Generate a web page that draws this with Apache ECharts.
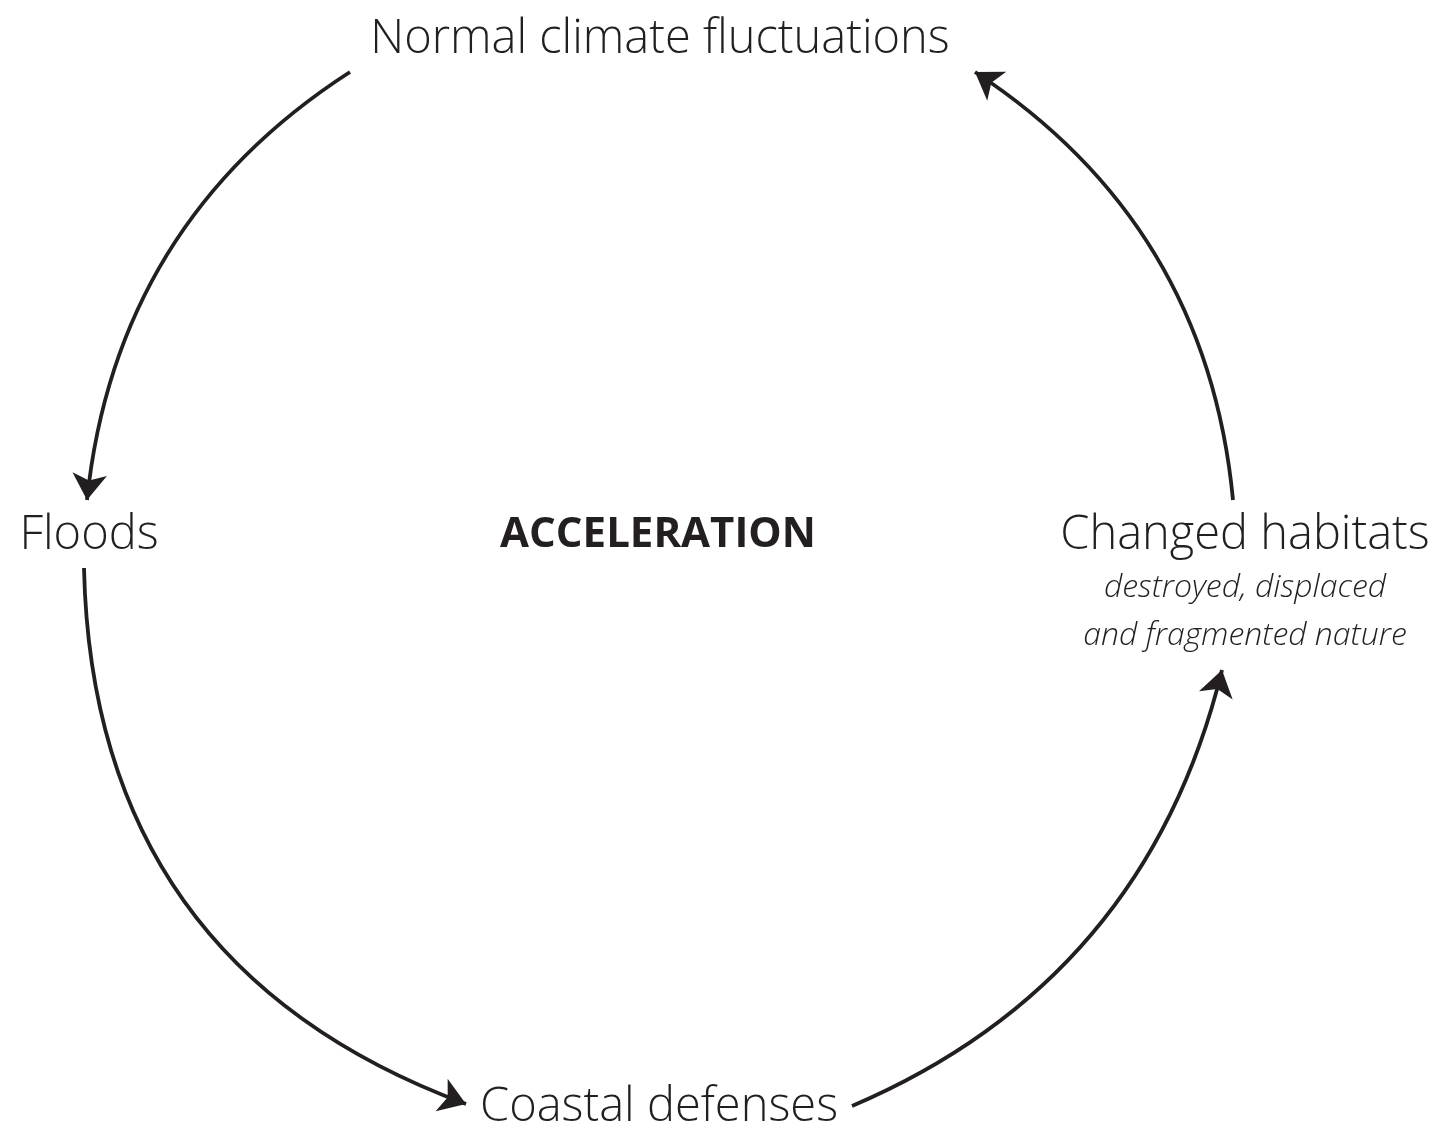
<!DOCTYPE html>
<html>
<head>
<meta charset="utf-8">
<script src="https://cdn.jsdelivr.net/npm/echarts@6/dist/echarts.min.js"></script>
<style>
  html, body { margin: 0; padding: 0; background: #fff; }
  #chart { width: 1453px; height: 1138px; }
</style>
</head>
<body>
<div id="chart"></div>
<script>
// nodes of the cycle (diagram units = page pixels)
var nodeNames = ['Normal climate fluctuations', 'Floods', 'Coastal defenses', 'Changed habitats'];
var nodeX = [660, 89, 659, 1245];
var nodeY = [40, 536, 1108, 536];
var centreName = 'ACCELERATION';
var centreX = 658, centreY = 535;
var noteLines = ['destroyed, displaced', 'and fragmented nature'];
var noteX = 1245, noteY = [588, 636];

// arrows between the nodes
var arrowFrom = [[350, 72], [84, 568], [852, 1106], [1233, 500]];
var arrowTo = [[87, 500], [466, 1104], [1222, 670], [975, 72]];
var arrowBend = [-0.24, -0.34, -0.25, -0.24];

var ink = '#231f20';
var font = '"Open Sans", Lato, sans-serif';

var chart = echarts.init(document.getElementById('chart'));

var arrowData = [];
for (var i = 0; i < arrowFrom.length; i++) {
    arrowData.push({
        coords: [arrowFrom[i], arrowTo[i]],
        lineStyle: { curveness: arrowBend[i] }
    });
}

var labelData = [];
for (var i = 0; i < nodeNames.length; i++) {
    labelData.push({ name: nodeNames[i], value: [nodeX[i], nodeY[i]] });
}

var noteData = [];
for (var i = 0; i < noteLines.length; i++) {
    noteData.push({ name: noteLines[i], value: [noteX, noteY[i]] });
}

function textSeries(data, fontSize, weight, style) {
    return {
        type: 'scatter',
        symbolSize: 0,
        itemStyle: { opacity: 1 },
        label: {
            show: true,
            position: 'inside',
            formatter: '{b}',
            color: ink,
            opacity: 1,
            fontFamily: font,
            fontWeight: weight,
            fontStyle: style,
            fontSize: fontSize
        },
        data: data
    };
}

var option = {
    animation: false,
    grid: { left: 0, right: 0, top: 0, bottom: 0 },
    xAxis: { type: 'value', min: 0, max: 1453, show: false },
    yAxis: { type: 'value', min: 0, max: 1138, inverse: true, show: false },
    series: [
        {
            type: 'lines',
            coordinateSystem: 'cartesian2d',
            symbol: ['none', 'arrow'],
            symbolSize: [18, 26],
            lineStyle: { color: ink, width: 3.8, opacity: 1 },
            itemStyle: { color: ink },
            data: arrowData
        },
        textSeries(labelData, 47, 300, 'normal'),
        textSeries([{ name: centreName, value: [centreX, centreY] }], 42, 'bold', 'normal'),
        textSeries(noteData, 32, 300, 'italic')
    ]
};

chart.setOption(option);
</script>
</body>
</html>
